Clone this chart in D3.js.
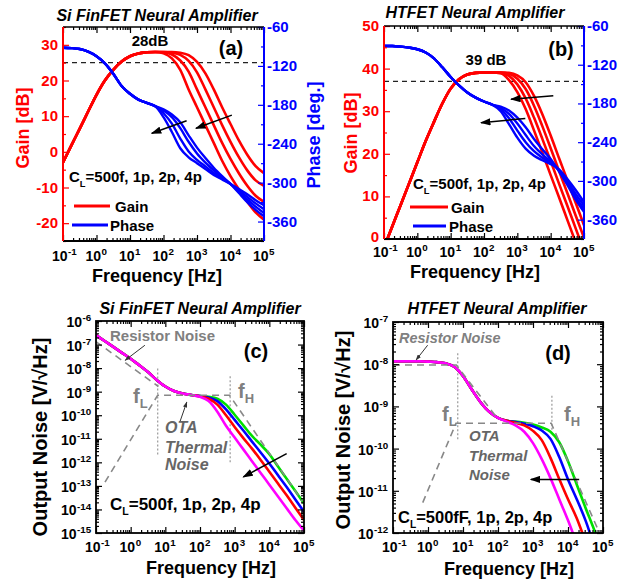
<!DOCTYPE html>
<html>
<head>
<meta charset="utf-8">
<script src="https://cdn.jsdelivr.net/npm/d3@7"></script>
<style>
  body { margin: 0; background: #fff; }
  svg { font-family: "Liberation Sans", Arial, sans-serif; font-weight: bold; }
</style>
</head>
<body>
<svg id="chart" width="636" height="586"></svg>
<script>
// log10 of the frequency in Hz, shared by every curve below
var logF = [-1, -0.75, -0.5, -0.25, 0, 0.25, 0.5, 0.75, 1, 1.25, 1.5, 1.75, 2,
            2.25, 2.5, 2.75, 3, 3.25, 3.5, 3.75, 4, 4.25, 4.5, 4.75, 5];

// (a) Si FinFET: gain [dB], common low part (-1 .. 1.75) then one tail per C_L (2 .. 5)
var gainA_low  = [-3, 1.8, 6.5, 11.3, 16, 20, 23, 25.3, 26.8, 27.6, 27.9, 28];
var gainA_4p   = gainA_low.concat([27.6, 26.2, 23, 17.5, 12.5, 7.5, 2.5, -2.5, -6.8, -10.5, -14, -17, -19]);
var gainA_2p   = gainA_low.concat([27.9, 27.3, 25.6, 22.5, 17.5, 12.5, 7.5, 2.5, -2, -6, -9.5, -12.3, -14]);
var gainA_1p   = gainA_low.concat([28, 27.8, 27.2, 25.5, 22.3, 17.5, 12.5, 7.5, 2.8, -1.5, -5.2, -8, -9.5]);
var gainA_500f = gainA_low.concat([28, 28, 27.8, 27.1, 25.2, 22, 17.5, 12.5, 7.8, 3.2, -0.8, -4, -6]);
// (a) phase [deg]
var phaseA_low  = [-92, -92.5, -94, -98, -105, -116, -132, -151, -163, -172, -177, -182];
var phaseA_4p   = phaseA_low.concat([-199, -222, -247, -261, -270, -279, -288, -295, -302, -310, -318, -327, -335]);
var phaseA_2p   = phaseA_low.concat([-193, -209, -232, -252, -265, -275, -285, -294, -302, -312, -322, -332, -341]);
var phaseA_1p   = phaseA_low.concat([-189, -199, -216, -237, -255, -269, -281, -292, -302, -314, -326, -337, -347]);
var phaseA_500f = phaseA_low.concat([-187, -195, -207, -227, -246, -262, -277, -290, -302, -316, -330, -342, -352]);

// (b) HTFET: gain [dB], common part (-1 .. 2.25) then tails (2.5 .. 5)
var gainB_low  = [-2, 3, 8, 13, 18, 23, 27.5, 31.8, 35.3, 37.5, 38.6, 39, 39.1, 39.1];
var gainB_4p   = gainB_low.concat([38.9, 37.3, 34.5, 30.5, 25.5, 20.3, 15, 9.8, 4.5, -0.8, -6]);
var gainB_2p   = gainB_low.concat([39, 38.3, 36.3, 33, 28.5, 23.5, 18.3, 13, 7.8, 2.5, -2.8]);
var gainB_1p   = gainB_low.concat([39.1, 38.8, 37.6, 35.2, 31.3, 26.5, 21.3, 16, 10.8, 5.5, 0.3]);
var gainB_500f = gainB_low.concat([39.1, 39, 38.4, 36.8, 33.6, 29.3, 24.3, 19, 13.8, 8.5, 3.2]);
var phaseB_low  = [-91, -91, -92, -93.5, -96, -101, -110, -124, -139, -152, -163, -171, -177, -182];
var phaseB_4p   = phaseB_low.concat([-192, -212, -233, -250, -261, -268, -274, -282, -297, -314, -333]);
var phaseB_2p   = phaseB_low.concat([-189, -203, -222, -240, -254, -264, -272, -283, -300, -320, -338]);
var phaseB_1p   = phaseB_low.concat([-187, -196, -211, -229, -246, -259, -270, -284, -303, -325, -343]);
var phaseB_500f = phaseB_low.concat([-185, -191, -202, -217, -235, -251, -266, -285, -306, -329, -348]);

// (c) Si FinFET output noise, log10 of V/sqrt(Hz)
var noiseC_low  = [-6.6, -6.85, -7.1, -7.35, -7.6, -7.88, -8.17, -8.5, -8.78, -8.97, -9.08, -9.14];
var noiseC_4p   = noiseC_low.concat([-9.22, -9.4, -9.85, -10.45, -10.95, -11.45, -11.95, -12.45, -12.95, -13.45, -13.95, -14.45, -14.9]);
var noiseC_2p   = noiseC_low.concat([-9.2, -9.3, -9.55, -10.0, -10.5, -10.97, -11.42, -11.9, -12.4, -12.9, -13.4, -13.93, -14.45]);
var noiseC_1p   = noiseC_low.concat([-9.19, -9.25, -9.4, -9.75, -10.2, -10.65, -11.12, -11.58, -12.05, -12.55, -13.05, -13.58, -14.1]);
var noiseC_500f = noiseC_low.concat([-9.19, -9.22, -9.3, -9.55, -9.98, -10.43, -10.88, -11.25, -11.65, -12.18, -12.7, -13.22, -13.75]);
// (c) asymptotes and corner markers, [log10 f, log10 noise]
var resistorC = [[-1, -6.88], [0.8, -8.78]];
var otaC      = [[-0.74, -12.84], [0.78, -9.15], [2.85, -9.15], [4.95, -13.65]];
var fLineC    = [[[0.78, -8.02], [0.78, -11.7]], [[2.87, -8.35], [2.87, -12.03]]];

// (d) HTFET output noise
var noiseD_low  = [-7.93, -7.93, -7.93, -7.93, -7.94, -7.95, -7.98, -8.06, -8.28, -8.6, -8.9, -9.13, -9.27];
var noiseD_4p   = noiseD_low.concat([-9.36, -9.45, -9.6, -9.87, -10.25, -10.7, -11.2, -11.7, -12.25, -12.8, -13.3, -13.8]);
var noiseD_2p   = noiseD_low.concat([-9.34, -9.39, -9.45, -9.58, -9.8, -10.22, -10.72, -11.2, -11.65, -12.2, -12.75, -13.3]);
var noiseD_1p   = noiseD_low.concat([-9.34, -9.37, -9.41, -9.47, -9.57, -9.77, -10.2, -10.73, -11.2, -11.7, -12.3, -12.85]);
var noiseD_500f = noiseD_low.concat([-9.34, -9.36, -9.39, -9.43, -9.5, -9.6, -9.85, -10.3, -10.85, -11.4, -11.93, -12.5]);
var resistorD = [[-1, -8.02], [0.81, -8.02], [2.0, -9.3]];
var otaD      = [[-0.15, -11.28], [0.8, -9.4], [3.52, -9.4], [4.9, -12.0]];
var fLineD    = [[[0.85, -7.74], [0.85, -9.79]], [[3.54, -8.75], [3.54, -9.6]]];

// axis ticks
var phaseDomain = [-390, -60];
var phaseTicks = [-360, -300, -240, -180, -120, -60];
var phaseMinor = [-390, -330, -270, -210, -150, -90];

var RED = "#ff0000", BLUE = "#0000ff", GREEN = "#00e000", MAGENTA = "#ff00ff", GRAY = "#808080";
var svg = d3.select("#chart");

var defs = svg.append("defs");
defs.append("marker").attr("id", "arrow")
  .attr("viewBox", "0 0 10 7").attr("refX", 9).attr("refY", 3.5)
  .attr("markerWidth", 7).attr("markerHeight", 4.9).attr("orient", "auto")
  .append("path").attr("d", "M0,0L10,3.5L0,7z").attr("fill", "#000");
defs.append("marker").attr("id", "arrowS")
  .attr("viewBox", "0 0 10 7").attr("refX", 9).attr("refY", 3.5)
  .attr("markerUnits", "userSpaceOnUse")
  .attr("markerWidth", 6).attr("markerHeight", 4.5).attr("orient", "auto")
  .append("path").attr("d", "M0,0L10,3.5L0,7z").attr("fill", "#333");

function zip(vals) {
  return logF.map(function (lf, i) { return [lf, vals[i]]; });
}

function isDecade(v) {
  var l = Math.log10(v);
  return Math.abs(l - Math.round(l)) < 1e-6;
}

function tickGroup(g, axis, transform, color) {
  var a = g.append("g").attr("transform", transform).call(axis.tickSizeOuter(0).tickFormat(""));
  a.select(".domain").remove();
  a.selectAll("text").remove();
  a.selectAll("line").attr("stroke", color).attr("stroke-width", 1.2);
  return a;
}

// "10" plus a raised exponent, as two texts; the joint between them sits at x
function power10(g, x, y, exp, size) {
  g.append("text").attr("x", x).attr("y", y).attr("font-size", size)
    .attr("text-anchor", "end").text("10");
  g.append("text").attr("x", x + 0.5).attr("y", y - size * 0.42).attr("font-size", size * 0.7)
    .attr("text-anchor", "start").text(exp);
}

function textAt(g, x, y, str, size, color, anchor, italic) {
  return g.append("text").attr("x", x).attr("y", y)
    .attr("font-size", size).attr("fill", color || "#000")
    .attr("text-anchor", anchor || "start")
    .attr("font-style", italic ? "italic" : "normal")
    .text(str);
}

function loadLabel(g, x, y, size, unit) {
  var t = g.append("text").attr("x", x).attr("y", y).attr("font-size", size);
  t.append("tspan").text("C");
  t.append("tspan").attr("dy", size * 0.3).attr("font-size", size * 0.62).text("L");
  t.append("tspan").attr("dy", -size * 0.3).text("=500" + unit + ", 1p, 2p, 4p");
}

function vLabel(g, cx, cy, str, size, color) {
  g.append("text").attr("transform", "translate(" + cx + "," + cy + ") rotate(-90)")
    .attr("text-anchor", "middle").attr("dy", "0.35em")
    .attr("font-size", size).attr("fill", color).text(str);
}

function freqTicks(g, x, p) {
  var all = x.ticks();
  var major = all.filter(isDecade), minor = all.filter(function (v) { return !isDecade(v); });
  tickGroup(g, d3.axisBottom(x).tickValues(major).tickSize(-6), "translate(0," + p.y1 + ")", "#000");
  tickGroup(g, d3.axisBottom(x).tickValues(minor).tickSize(-3), "translate(0," + p.y1 + ")", "#000");
  tickGroup(g, d3.axisTop(x).tickValues(major).tickSize(-6), "translate(0," + p.y0 + ")", "#000");
  tickGroup(g, d3.axisTop(x).tickValues(minor).tickSize(-3), "translate(0," + p.y0 + ")", "#000");
  major.forEach(function (v) {
    power10(g, x(v) + 4.5, p.y1 + p.xLabelDy, Math.round(Math.log10(v)), 14);
  });
  textAt(g, p.freqX, p.freqY, "Frequency [Hz]", 18, "#000", "middle");
}

function bode(p) {
  var x = d3.scaleLog().domain([0.1, 1e5]).range([p.x0, p.x1]);
  var yG = d3.scaleLinear().domain(p.gainDomain).range([p.y1, p.y0]);
  var yP = d3.scaleLinear().domain(phaseDomain).range([p.y1, p.y0]);
  var g = svg.append("g");

  g.append("clipPath").attr("id", "clip-" + p.id).append("rect")
    .attr("x", p.x0).attr("y", p.y0).attr("width", p.x1 - p.x0).attr("height", p.y1 - p.y0);
  var plot = g.append("g").attr("clip-path", "url(#clip-" + p.id + ")");

  plot.append("line")
    .attr("x1", p.x0).attr("x2", p.x1)
    .attr("y1", yG(p.dashLevel)).attr("y2", yG(p.dashLevel))
    .attr("stroke", "#222").attr("stroke-width", 1.2).attr("stroke-dasharray", "5,4");

  var lineG = d3.line().x(function (d) { return x(Math.pow(10, d[0])); })
    .y(function (d) { return yG(d[1]); }).curve(d3.curveMonotoneX);
  var lineP = d3.line().x(function (d) { return x(Math.pow(10, d[0])); })
    .y(function (d) { return yP(d[1]); }).curve(d3.curveMonotoneX);

  p.gains.forEach(function (v) {
    plot.append("path").attr("d", lineG(zip(v))).attr("fill", "none")
      .attr("stroke", RED).attr("stroke-width", 2.6);
  });
  p.phases.forEach(function (v) {
    plot.append("path").attr("d", lineP(zip(v))).attr("fill", "none")
      .attr("stroke", BLUE).attr("stroke-width", 2.4);
  });

  // arrows, given as [log f, gain]
  p.arrows.forEach(function (a) {
    g.append("line")
      .attr("x1", x(Math.pow(10, a[0][0]))).attr("y1", yG(a[0][1]))
      .attr("x2", x(Math.pow(10, a[1][0]))).attr("y2", yG(a[1][1]))
      .attr("stroke", "#000").attr("stroke-width", 1.5).attr("marker-end", "url(#arrow)");
  });

  freqTicks(g, x, p);
  tickGroup(g, d3.axisLeft(yG).tickValues(p.gainTicks).tickSize(-6), "translate(" + p.x0 + ",0)", RED);
  tickGroup(g, d3.axisLeft(yG).tickValues(p.gainMinor).tickSize(-3), "translate(" + p.x0 + ",0)", RED);
  tickGroup(g, d3.axisRight(yP).tickValues(phaseTicks).tickSize(-6), "translate(" + p.x1 + ",0)", BLUE);
  tickGroup(g, d3.axisRight(yP).tickValues(phaseMinor).tickSize(-3), "translate(" + p.x1 + ",0)", BLUE);

  g.append("line").attr("x1", p.x0).attr("x2", p.x1).attr("y1", p.y0).attr("y2", p.y0)
    .attr("stroke", "#000").attr("stroke-width", 1.5);
  g.append("line").attr("x1", p.x0).attr("x2", p.x1).attr("y1", p.y1).attr("y2", p.y1)
    .attr("stroke", "#000").attr("stroke-width", 2);
  g.append("line").attr("x1", p.x0).attr("x2", p.x0).attr("y1", p.y0).attr("y2", p.y1)
    .attr("stroke", RED).attr("stroke-width", 2);
  g.append("line").attr("x1", p.x1).attr("x2", p.x1).attr("y1", p.y0).attr("y2", p.y1)
    .attr("stroke", BLUE).attr("stroke-width", 2);

  p.gainTicks.forEach(function (v) {
    textAt(g, p.x0 - 5, yG(v) + 5 - (v === p.gainDomain[0] ? 2 : 0), v, 15, RED, "end");
  });
  phaseTicks.forEach(function (v) {
    textAt(g, p.x1 + 3, yP(v) + 5, v, 15, BLUE, "start");
  });

  textAt(g, p.titleX, p.titleY, p.title, 16, "#000", "middle", true);
  vLabel(g, p.gainLabelX, p.gainLabelY, "Gain [dB]", 18, RED);
  if (p.phaseLabelX) vLabel(g, p.phaseLabelX, p.phaseLabelY, "Phase [deg.]", 18, BLUE);
  textAt(g, p.peakX, p.peakY, p.peakText, 15, "#000", "middle");
  textAt(g, p.tagX, p.tagY, p.tag, 20, "#000", "middle");

  loadLabel(g, p.legX, p.legY, 15, "f");
  g.append("line").attr("x1", p.legGain[0]).attr("x2", p.legGain[1]).attr("y1", p.legGain[2]).attr("y2", p.legGain[2])
    .attr("stroke", RED).attr("stroke-width", 3);
  textAt(g, p.legGain[3], p.legGain[2] + 6, "Gain", 15, "#000");
  g.append("line").attr("x1", p.legPhase[0]).attr("x2", p.legPhase[1]).attr("y1", p.legPhase[2]).attr("y2", p.legPhase[2])
    .attr("stroke", BLUE).attr("stroke-width", 3);
  textAt(g, p.legPhase[3], p.legPhase[2] + 6, "Phase", 15, "#000");
}

function noisePanel(p) {
  var x = d3.scaleLog().domain([0.1, 1e5]).range([p.x0, p.x1]);
  var y = d3.scaleLog().domain([Math.pow(10, p.yExp[0]), Math.pow(10, p.yExp[1])]).range([p.y1, p.y0]);
  var g = svg.append("g");

  g.append("clipPath").attr("id", "clip-" + p.id).append("rect")
    .attr("x", p.x0).attr("y", p.y0).attr("width", p.x1 - p.x0).attr("height", p.y1 - p.y0);
  var plot = g.append("g").attr("clip-path", "url(#clip-" + p.id + ")");

  var px = function (d) { return x(Math.pow(10, d[0])); };
  var py = function (d) { return y(Math.pow(10, d[1])); };
  var straight = d3.line().x(px).y(py);
  var smooth = d3.line().x(px).y(py).curve(d3.curveMonotoneX);

  p.fLines.forEach(function (l) {
    plot.append("path").attr("d", straight(l)).attr("fill", "none")
      .attr("stroke", "#999").attr("stroke-width", 1.2).attr("stroke-dasharray", "2,2");
  });

  var colors = [GREEN, BLUE, RED, MAGENTA];
  p.curves.forEach(function (v, i) {
    plot.append("path").attr("d", smooth(zip(v))).attr("fill", "none")
      .attr("stroke", colors[i]).attr("stroke-width", 2.6);
  });

  [p.resistor, p.ota].forEach(function (l) {
    plot.append("path").attr("d", straight(l)).attr("fill", "none")
      .attr("stroke", "#888").attr("stroke-width", 1.6).attr("stroke-dasharray", "7,5");
  });

  p.pointers.forEach(function (a) {
    g.append("line").attr("x1", px(a[0])).attr("y1", py(a[0])).attr("x2", px(a[1])).attr("y2", py(a[1]))
      .attr("stroke", "#333").attr("stroke-width", 1).attr("marker-end", "url(#arrowS)");
  });
  g.append("line").attr("x1", px(p.arrow[0])).attr("y1", py(p.arrow[0]))
    .attr("x2", px(p.arrow[1])).attr("y2", py(p.arrow[1]))
    .attr("stroke", "#000").attr("stroke-width", 1.5).attr("marker-end", "url(#arrow)");

  freqTicks(g, x, p);
  var yAll = y.ticks();
  var yMajor = yAll.filter(isDecade), yMinor = yAll.filter(function (v) { return !isDecade(v); });
  tickGroup(g, d3.axisLeft(y).tickValues(yMajor).tickSize(-6), "translate(" + p.x0 + ",0)", "#000");
  tickGroup(g, d3.axisLeft(y).tickValues(yMinor).tickSize(-3), "translate(" + p.x0 + ",0)", "#000");
  tickGroup(g, d3.axisRight(y).tickValues(yMajor).tickSize(-6), "translate(" + p.x1 + ",0)", "#000");
  tickGroup(g, d3.axisRight(y).tickValues(yMinor).tickSize(-3), "translate(" + p.x1 + ",0)", "#000");

  g.append("rect").attr("x", p.x0).attr("y", p.y0).attr("width", p.x1 - p.x0).attr("height", p.y1 - p.y0)
    .attr("fill", "none").attr("stroke", "#000").attr("stroke-width", 1.8);

  yMajor.forEach(function (v) {
    var e = String(Math.round(Math.log10(v)));
    var joint = p.x0 - 3 - e.length * 5.5;
    power10(g, joint, y(v) + 6, e, 14);
  });

  textAt(g, p.titleX, p.titleY, p.title, 16, "#000", "middle", true);
  vLabel(g, p.yLabelX, p.yLabelY, "Output Noise [V/\u221AHz]", 20, "#000");
  textAt(g, p.resX, p.resY, "Resistor Noise", p.resSize, GRAY, "start", p.resItalic);
  textAt(g, p.tagX, p.tagY, p.tag, 20, "#000", "middle");

  [["f", "L", p.fL], ["f", "H", p.fH]].forEach(function (f) {
    var t = g.append("text").attr("x", f[2][0]).attr("y", f[2][1]).attr("font-size", 20).attr("fill", GRAY);
    t.append("tspan").text(f[0]);
    t.append("tspan").attr("dy", 5).attr("font-size", 13).text(f[1]);
  });
  ["OTA", "Thermal", "Noise"].forEach(function (s, i) {
    textAt(g, p.otaX, p.otaY[i], s, p.otaSize, "#666", "start", true);
  });
  loadLabel(g, p.legX, p.legY, p.legSize, p.unit);
}

bode({
  id: "a", x0: 63, x1: 264, y0: 27, y1: 241,
  gainDomain: [-25, 35], gainTicks: [-20, -10, 0, 10, 20, 30], gainMinor: [-25, -15, -5, 5, 15, 25, 35],
  dashLevel: 25,
  gains: [gainA_4p, gainA_2p, gainA_1p, gainA_500f],
  phases: [phaseA_4p, phaseA_2p, phaseA_1p, phaseA_500f],
  arrows: [[[4.04, 10.3], [2.97, 6.6]], [[2.69, 8.7], [1.65, 5.2]]],
  xLabelDy: 20, freqX: 157, freqY: 282,
  title: "Si FinFET Neural Amplifier", titleX: 157, titleY: 21,
  gainLabelX: 23, gainLabelY: 128, phaseLabelX: 314, phaseLabelY: 135,
  peakText: "28dB", peakX: 150, peakY: 46, tag: "(a)", tagX: 231, tagY: 55,
  legX: 69, legY: 182, legGain: [74, 110, 206, 115], legPhase: [72, 108, 225, 110]
});

bode({
  id: "b", x0: 384, x1: 584, y0: 26, y1: 239,
  gainDomain: [0, 50], gainTicks: [0, 10, 20, 30, 40, 50], gainMinor: [5, 15, 25, 35, 45],
  dashLevel: 37,
  gains: [gainB_4p, gainB_2p, gainB_1p, gainB_500f],
  phases: [phaseB_4p, phaseB_2p, phaseB_1p, phaseB_500f],
  arrows: [[[4.08, 33.6], [2.81, 32.8]], [[3.24, 28.3], [1.91, 27.3]]],
  xLabelDy: 18, freqX: 475, freqY: 278,
  title: "HTFET Neural Amplifier", titleX: 475, titleY: 18,
  gainLabelX: 351, gainLabelY: 133,
  peakText: "39 dB", peakX: 486, peakY: 65, tag: "(b)", tagX: 561, tagY: 56,
  legX: 413, legY: 189, legGain: [410, 448, 207, 451], legPhase: [413, 446, 226, 449]
});

noisePanel({
  id: "c", x0: 96, x1: 304, y0: 321, y1: 533, yExp: [-15, -6],
  curves: [noiseC_500f, noiseC_1p, noiseC_2p, noiseC_4p],
  resistor: resistorC, ota: otaC, fLines: fLineC,
  pointers: [[[0.41, -7.03], [-0.16, -7.67]], [[1.42, -10.28], [1.62, -9.44]]],
  arrow: [[4.5, -11.63], [3.25, -12.62]],
  xLabelDy: 19, freqX: 211, freqY: 574,
  title: "Si FinFET Neural Amplifier", titleX: 200, titleY: 314,
  yLabelX: 40, yLabelY: 437,
  resX: 110, resY: 341, resSize: 15, resItalic: false,
  tag: "(c)", tagX: 256, tagY: 358,
  fL: [133, 403], fH: [238, 398],
  otaX: 165, otaY: [433, 453, 470], otaSize: 16,
  legX: 110, legY: 510, legSize: 17, unit: "f"
});

noisePanel({
  id: "d", x0: 393, x1: 603, y0: 322, y1: 533, yExp: [-12, -7],
  curves: [noiseD_500f, noiseD_1p, noiseD_2p, noiseD_4p],
  resistor: resistorD, ota: otaD, fLines: fLineD,
  pointers: [[[-0.01, -7.55], [-0.34, -7.9]]],
  arrow: [[4.32, -10.73], [2.94, -10.73]],
  xLabelDy: 19, freqX: 509, freqY: 575,
  title: "HTFET Neural Amplifier", titleX: 497, titleY: 314,
  yLabelX: 343, yLabelY: 430,
  resX: 399, resY: 343, resSize: 14.5, resItalic: true,
  tag: "(d)", tagX: 558, tagY: 360,
  fL: [442, 421], fH: [564, 421],
  otaX: 469, otaY: [441, 461, 480], otaSize: 15,
  legX: 398, legY: 523, legSize: 16.5, unit: "fF"
});
</script>
</body>
</html>
